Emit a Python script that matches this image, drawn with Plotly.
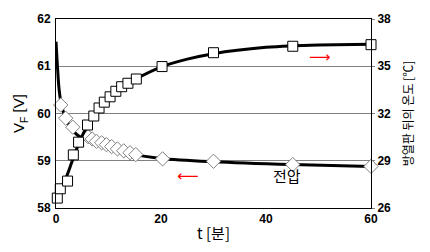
import plotly.graph_objects as go

# Voltage measurements (diamonds), left axis
v_t = [0.9, 1.85, 3.2, 6.1, 6.9, 7.7, 8.7, 9.6, 10.6, 11.7, 12.9, 14.1, 15.2, 20.3, 30.0, 45.1, 60.0]
v_val = [60.18, 59.90, 59.71, 59.51, 59.46, 59.41, 59.38, 59.34, 59.30, 59.25, 59.21, 59.17, 59.13, 59.04, 58.99, 58.92, 58.88]

# Temperature measurements (squares), right axis
T_t = [0.25, 0.82, 2.2, 3.3, 4.3, 6.0, 7.2, 8.2, 9.2, 10.3, 11.4, 12.5, 13.7, 15.3, 20.2, 30.0, 45.1, 60.0]
T_val = [26.63, 27.22, 27.71, 29.37, 30.18, 31.27, 31.84, 32.35, 32.72, 33.06, 33.41, 33.70, 33.92, 34.19, 34.98, 35.86, 36.27, 36.37]

# Trend curves
vc_t = [0, 0.3, 0.6, 1.0, 1.5, 2.0, 3.0, 4.0, 5.0, 6.0, 8.0, 10.0, 12.0, 15.0, 20.0, 30.0, 45.0, 60.0]
vc_val = [61.52, 60.95, 60.50, 60.20, 60.0, 59.86, 59.67, 59.55, 59.48, 59.43, 59.34, 59.27, 59.21, 59.13, 59.05, 58.98, 58.92, 58.88]

Tc_t = [0, 1, 2, 3, 4, 5, 6, 8, 10, 12, 15, 20, 25, 30, 40, 45, 50, 60]
Tc_val = [26.55, 27.3, 28.0, 28.9, 29.8, 30.6, 31.2, 32.2, 32.9, 33.5, 34.15, 34.95, 35.45, 35.8, 36.2, 36.3, 36.35, 36.4]

x_ticks = [0, 20, 40, 60]
yl_ticks = [58, 59, 60, 61, 62]
yr_ticks = [26, 29, 32, 35, 38]

fig = go.Figure()
fig.add_trace(go.Scatter(x=vc_t, y=vc_val, mode="lines", line=dict(color="black", width=3, shape="spline"),
                         showlegend=False, hoverinfo="skip"))
fig.add_trace(go.Scatter(x=Tc_t, y=Tc_val, yaxis="y2", mode="lines",
                         line=dict(color="black", width=3, shape="spline"), showlegend=False, hoverinfo="skip"))
fig.add_trace(go.Scatter(x=v_t, y=v_val, mode="markers",
                         marker=dict(symbol="diamond", size=11, color="white", line=dict(color="#808080", width=1)),
                         showlegend=False, cliponaxis=False))
fig.add_trace(go.Scatter(x=T_t, y=T_val, yaxis="y2", mode="markers",
                         marker=dict(symbol="square", size=10, color="white", line=dict(color="black", width=1)),
                         showlegend=False, cliponaxis=False))

tickfont = dict(family="Liberation Sans, Arial", size=12, color="black", weight="bold")

fig.update_layout(
    width=430, height=252,
    margin=dict(l=56, r=59, t=15, b=41),
    paper_bgcolor="white", plot_bgcolor="white",
    xaxis=dict(range=[0, 60], tickvals=x_ticks, showgrid=False, zeroline=False,
               showline=True, linecolor="black", linewidth=1, mirror=True,
               ticks="", tickfont=tickfont, ticklabelstandoff=0,
               title=dict(text="t [분]", standoff=3,
                          font=dict(family="Noto Sans CJK KR", size=15, color="black"))),
    yaxis=dict(range=[58, 62], tickvals=yl_ticks, showgrid=True, gridcolor="#808080", gridwidth=1,
               zeroline=False, showline=True, linecolor="black", linewidth=1,
               ticks="", tickfont=tickfont, ticklabelstandoff=2,
               title=dict(text="V<sub>F</sub> [V]", standoff=8,
                          font=dict(family="Liberation Sans, Arial", size=15, color="black"))),
    yaxis2=dict(range=[26, 38], tickvals=yr_ticks, overlaying="y", side="right", showgrid=False,
                zeroline=False, showline=True, linecolor="black", linewidth=1,
                ticks="outside", ticklen=3, tickcolor="#808080", tickfont=tickfont, ticklabelstandoff=0,
                title=dict(text="방열판 뒤의 온도 [℃]", standoff=14,
                           font=dict(family="Noto Sans CJK KR", size=12, color="black"))),
    annotations=[
        dict(text="전압", x=44.0, y=58.68, xref="x", yref="y", showarrow=False,
             font=dict(family="Noto Sans CJK KR", size=15, color="black")),
        dict(text="⟵", x=25.2, y=58.67, xref="x", yref="y", showarrow=False,
             font=dict(family="DejaVu Sans", size=15, color="red"), xanchor="center", yanchor="middle"),
        dict(text="⟶", x=50.2, y=61.2, xref="x", yref="y", showarrow=False,
             font=dict(family="DejaVu Sans", size=15, color="red"), xanchor="center", yanchor="middle"),
    ],
)

fig.write_html("out.html")
